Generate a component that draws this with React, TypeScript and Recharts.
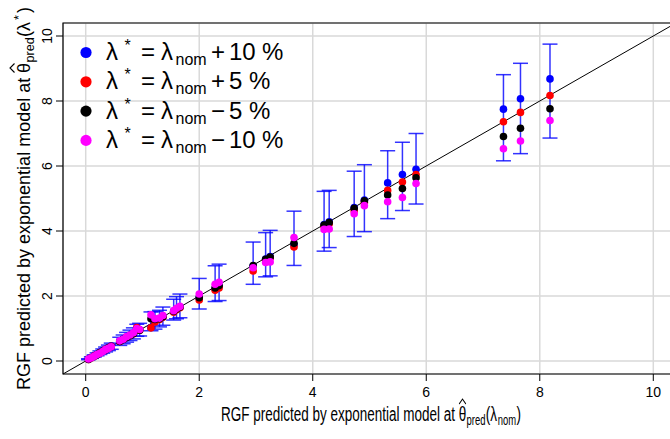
import React from "react";
import {
  ScatterChart,
  Scatter,
  XAxis,
  YAxis,
  CartesianGrid,
  ErrorBar,
  ReferenceLine,
  ReferenceArea,
} from "recharts";

// RGF predicted at theta_pred(lambda_nom), one entry per dataset
const xPred = [
  0.05, 0.1, 0.15, 0.2, 0.25, 0.3, 0.35, 0.4, 0.45, 0.6, 0.66, 0.72, 0.78, 0.84,
  0.9, 0.95, 1.15, 1.22, 1.3, 1.36, 1.55, 1.6, 1.66, 2.0, 2.28, 2.35, 2.95, 3.17,
  3.25, 3.67, 4.2, 4.29, 4.73, 4.91, 5.32, 5.58, 5.82, 7.36, 7.66, 8.18,
];

// RGF predicted at theta_pred(lambda*) for the four perturbations
const plus10 = [
  0.06, 0.11, 0.16, 0.21, 0.27, 0.32, 0.37, 0.42, 0.47, 0.62, 0.68, 0.74, 0.8, 0.85,
  1.02, 0.96, 1.03, 1.25, 1.3, 1.38, 1.52, 1.6, 1.66, 1.95, 2.22, 2.3, 2.92, 3.14,
  3.21, 3.58, 4.2, 4.28, 4.72, 4.95, 5.48, 5.74, 5.9, 7.75, 8.07, 8.68,
];
const plus5 = [
  0.05, 0.1, 0.15, 0.2, 0.25, 0.3, 0.36, 0.4, 0.45, 0.6, 0.66, 0.73, 0.78, 0.84,
  1.03, 0.95, 1.02, 1.2, 1.28, 1.35, 1.5, 1.58, 1.64, 1.88, 2.18, 2.25, 2.77, 3.1,
  3.18, 3.51, 4.15, 4.22, 4.62, 4.88, 5.25, 5.51, 5.74, 7.36, 7.65, 8.17,
];
const minus5 = [
  0.05, 0.1, 0.15, 0.19, 0.25, 0.3, 0.34, 0.4, 0.44, 0.6, 0.66, 0.72, 0.78, 0.84,
  0.98, 0.95, 1.3, 1.28, 1.3, 1.36, 1.53, 1.6, 1.66, 1.95, 2.25, 2.32, 2.94, 3.13,
  3.2, 3.62, 4.18, 4.26, 4.7, 4.93, 5.11, 5.31, 5.64, 6.91, 7.16, 7.76,
];
const minus10 = [
  0.06, 0.1, 0.15, 0.2, 0.24, 0.29, 0.35, 0.39, 0.44, 0.62, 0.67, 0.75, 0.8, 0.87,
  1.0, 0.97, 1.42, 1.3, 1.32, 1.4, 1.55, 1.62, 1.68, 2.06, 2.36, 2.42, 2.87, 3.03,
  3.05, 3.8, 4.05, 4.06, 4.53, 4.78, 4.9, 5.03, 5.46, 6.53, 6.77, 7.4,
];

// interval ends of the blue error bars
const errLow = [
  0.04, 0.08, 0.12, 0.16, 0.2, 0.24, 0.28, 0.32, 0.36, 0.48, 0.53, 0.58, 0.63, 0.68,
  0.76, 0.77, 0.93, 0.98, 1.05, 1.1, 1.26, 1.3, 1.33, 1.6, 1.83, 1.86, 2.36, 2.59,
  2.62, 2.94, 3.38, 3.49, 3.83, 3.98, 4.38, 4.63, 4.83, 6.16, 6.38, 6.86,
];
const errHigh = [
  0.07, 0.13, 0.19, 0.25, 0.31, 0.37, 0.43, 0.49, 0.55, 0.73, 0.8, 0.88, 0.95, 1.02,
  1.13, 1.16, 1.51, 1.52, 1.56, 1.66, 1.9, 1.98, 2.06, 2.54, 2.93, 2.98, 3.66, 3.95,
  4.02, 4.61, 5.22, 5.25, 5.84, 6.04, 6.47, 6.73, 7.0, 8.81, 9.16, 9.75,
];

const axisTicks = [0, 2, 4, 6, 8, 10];
const DOMAIN: [number, number] = [-0.4, 10.4];

const SERIES = [
  { key: "p10", sign: "+", pct: "10", values: plus10, color: "#0000ff" },
  { key: "p5", sign: "+", pct: "5", values: plus5, color: "#ff0000" },
  { key: "m5", sign: "\u2212", pct: "5", values: minus5, color: "#000000" },
  { key: "m10", sign: "\u2212", pct: "10", values: minus10, color: "#ff00ff" },
];

const FONT = "'Liberation Sans', Arial, Helvetica, sans-serif";

const errorRows = xPred.map((x, i) => ({
  x,
  y: errLow[i],
  err: [0, errHigh[i] - errLow[i]],
}));

const XTick = ({ x, y, payload }: any) => (
  <text x={x} y={y + 14} textAnchor="middle" fontSize={14} fontFamily={FONT} fill="#000">
    {payload.value}
  </text>
);

const YTick = ({ x, y, payload }: any) => (
  <text
    transform={`translate(${x - 2},${y}) rotate(-90)`}
    textAnchor="middle"
    fontSize={14}
    fontFamily={FONT}
    fill="#000"
  >
    {payload.value}
  </text>
);

// "RGF predicted by exponential model at theta-hat_pred(...)" laid out from x=0
function AxisTitle({ arg }: { arg: "nom" | "star" }) {
  const F = 18;
  const s = F * 0.7;
  return (
    <g fontFamily={FONT} fill="#000">
      <text x={0} y={0} fontSize={F}>
        RGF predicted by exponential model at
      </text>
      <text x={317} y={0} fontSize={F}>
        {"\u03b8"}
      </text>
      <path d="M317.5,-15.5 L322,-20 L326.5,-15.5" fill="none" stroke="#000" strokeWidth={1.1} />
      <text x={327.5} y={4} fontSize={s}>
        pred
      </text>
      <text x={353} y={0} fontSize={F}>
        {"(\u03bb"}
      </text>
      {arg === "nom" ? (
        <>
          <text x={369} y={4} fontSize={s}>
            nom
          </text>
          <text x={394} y={0} fontSize={F}>
            )
          </text>
        </>
      ) : (
        <>
          <text x={370} y={-7} fontSize={s}>
            *
          </text>
          <text x={377} y={0} fontSize={F}>
            )
          </text>
        </>
      )}
    </g>
  );
}

function LegendRow({ row, y }: { row: (typeof SERIES)[number]; y: number }) {
  const F = 24;
  const s = 16;
  return (
    <g fontFamily={FONT} fill="#000">
      <circle cx={86} cy={y - 7.5} r={5.6} fill={row.color} />
      <text x={106} y={y} fontSize={F}>
        {"\u03bb"}
      </text>
      <text x={124.5} y={y - 9} fontSize={s}>
        *
      </text>
      <text x={141} y={y} fontSize={F}>
        =
      </text>
      <text x={161} y={y} fontSize={F}>
        {"\u03bb"}
      </text>
      <text x={175.5} y={y + 5} fontSize={s}>
        nom
      </text>
      <text x={211} y={y} fontSize={F}>
        {row.sign}
      </text>
      <text x={229} y={y} fontSize={F}>
        {row.pct}
      </text>
      <text x={row.pct === "10" ? 262 : 249} y={y} fontSize={F}>
        %
      </text>
    </g>
  );
}

export default function App() {
  return (
    <div
      style={{
        position: "absolute",
        left: 0,
        top: 0,
        width: 670,
        height: 439,
        overflow: "hidden",
        background: "#fff",
      }}
    >
      <ScatterChart
        width={690}
        height={439}
        margin={{ top: 23, right: 14, bottom: 15, left: 13 }}
      >
        <CartesianGrid stroke="#d9d9d9" strokeWidth={1.5} />
        <XAxis
          type="number"
          dataKey="x"
          domain={DOMAIN}
          ticks={axisTicks}
          allowDataOverflow
          height={50}
          axisLine={false}
          tickSize={7}
          tickLine={{ stroke: "#000" }}
          tick={<XTick />}
        />
        <YAxis
          type="number"
          dataKey="y"
          domain={DOMAIN}
          ticks={axisTicks}
          allowDataOverflow
          width={50}
          axisLine={false}
          tickSize={7}
          tickLine={{ stroke: "#000" }}
          tick={<YTick />}
        />
        <ReferenceArea
          x1={DOMAIN[0]}
          x2={DOMAIN[1]}
          y1={DOMAIN[0]}
          y2={DOMAIN[1]}
          fill="none"
          fillOpacity={0}
          stroke="#000"
          strokeWidth={1.2}
          ifOverflow="visible"
        />
        <ReferenceLine
          segment={[
            { x: DOMAIN[0], y: DOMAIN[0] },
            { x: DOMAIN[1], y: DOMAIN[1] },
          ]}
          stroke="#000"
          strokeWidth={1}
          ifOverflow="visible"
        />
        <Scatter data={errorRows} isAnimationActive={false} shape={() => <g />}>
          <ErrorBar
            dataKey="err"
            direction="y"
            width={7.5}
            stroke="#0000ff"
            strokeOpacity={0.8}
            strokeWidth={1.5}
            isAnimationActive={false}
          />
        </Scatter>
        {SERIES.map((s) => (
          <Scatter
            key={s.key}
            data={xPred.map((x, i) => ({ x, y: s.values[i] }))}
            isAnimationActive={false}
            shape={(p: any) => <circle cx={p.cx} cy={p.cy} r={3.8} fill={s.color} />}
          />
        ))}
      </ScatterChart>
      <svg
        width={670}
        height={439}
        style={{ position: "absolute", left: 0, top: 0, pointerEvents: "none" }}
      >
        {SERIES.map((row, i) => (
          <LegendRow key={row.key} row={row} y={60 + i * 29.3} />
        ))}
        <g transform="translate(221,421) scale(0.75,1.1)">
          <AxisTitle arg="nom" />
        </g>
        <g transform="translate(30,390) rotate(-90)">
          <AxisTitle arg="star" />
        </g>
      </svg>
    </div>
  );
}
